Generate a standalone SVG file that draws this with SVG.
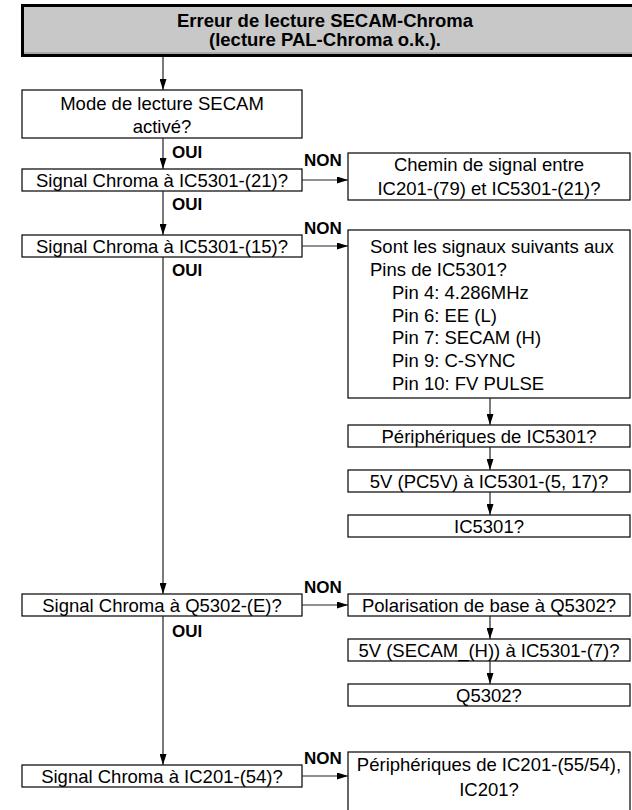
<svg xmlns="http://www.w3.org/2000/svg" width="632" height="810" viewBox="0 0 632 810">
<style>
.b{fill:#fff;stroke:#000;stroke-width:1.2}
.t{font-family:"Liberation Sans",Arial,sans-serif;font-size:18.5px;fill:#000}
.c{text-anchor:middle}
.l{font-family:"Liberation Sans",Arial,sans-serif;font-size:17px;font-weight:bold;fill:#000}
.w{fill:none;stroke:#222;stroke-width:1.2}
</style>
<defs>
<marker id="a" viewBox="0 0 11 7" refX="11" refY="3.5" markerWidth="11" markerHeight="7" markerUnits="userSpaceOnUse" orient="auto">
<path d="M0,0 L11,3.5 L0,7 Z" fill="#000"/>
</marker>
</defs>
<rect x="0" y="0" width="632" height="810" fill="#fff"/>
<g id="title">
<rect x="22.5" y="5.5" width="640" height="50" fill="#c8c8c8" stroke="#000" stroke-width="3"/>
<line x1="24" y1="53" x2="632" y2="53" stroke="#8a8a8a" stroke-width="1"/>
<text class="t c" x="325" y="27" font-weight="bold">Erreur de lecture SECAM-Chroma</text>
<text class="t c" x="325" y="46" font-weight="bold">(lecture PAL-Chroma o.k.).</text>
</g>
<g id="n1"><rect class="b" x="22" y="90" width="280" height="48"/>
<text class="t c" x="162" y="110">Mode de lecture SECAM</text><text class="t c" x="162" y="133">activé?</text></g>
<g id="n2"><rect class="b" x="22" y="169" width="280" height="22"/>
<text class="t c" x="162" y="187">Signal Chroma à IC5301-(21)?</text></g>
<g id="n3"><rect class="b" x="348" y="153" width="282" height="47"/>
<text class="t c" x="489" y="171">Chemin de signal entre</text><text class="t c" x="489" y="195">IC201-(79) et IC5301-(21)?</text></g>
<g id="n4"><rect class="b" x="22" y="235" width="280" height="22"/>
<text class="t c" x="162" y="253">Signal Chroma à IC5301-(15)?</text></g>
<g id="n5"><rect class="b" x="348" y="230" width="282" height="168"/>
<text class="t" x="370" y="253">Sont les signaux suivants aux</text>
<text class="t" x="370" y="276">Pins de IC5301?</text>
<text class="t" x="392" y="299">Pin 4: 4.286MHz</text>
<text class="t" x="392" y="322">Pin 6: EE (L)</text>
<text class="t" x="392" y="344">Pin 7: SECAM (H)</text>
<text class="t" x="392" y="367">Pin 9: C-SYNC</text>
<text class="t" x="392" y="390">Pin 10: FV PULSE</text></g>
<g id="n6"><rect class="b" x="348" y="425" width="282" height="22"/>
<text class="t c" x="489" y="443">Périphériques de IC5301?</text></g>
<g id="n7"><rect class="b" x="348" y="470" width="282" height="22"/>
<text class="t c" x="489" y="488">5V (PC5V) à IC5301-(5, 17)?</text></g>
<g id="n8"><rect class="b" x="348" y="515" width="282" height="22"/>
<text class="t c" x="489" y="533">IC5301?</text></g>
<g id="n9"><rect class="b" x="22" y="594" width="280" height="22"/>
<text class="t c" x="162" y="612">Signal Chroma à Q5302-(E)?</text></g>
<g id="n10"><rect class="b" x="348" y="594" width="282" height="22"/>
<text class="t c" x="489" y="612">Polarisation de base à Q5302?</text></g>
<g id="n11"><rect class="b" x="348" y="639" width="282" height="22"/>
<text class="t c" x="489" y="657">5V (SECAM_(H)) à IC5301-(7)?</text></g>
<g id="n12"><rect class="b" x="348" y="684" width="282" height="22"/>
<text class="t c" x="489" y="702">Q5302?</text></g>
<g id="n13"><rect class="b" x="22" y="765" width="280" height="22"/>
<text class="t c" x="162" y="783">Signal Chroma à IC201-(54)?</text></g>
<g id="n14"><rect class="b" x="348" y="752" width="282" height="70"/>
<text class="t c" x="489" y="771">Périphériques de IC201-(55/54),</text><text class="t c" x="489" y="796">IC201?</text></g>
<g id="connectors">
<path class="w" marker-end="url(#a)" d="M163,57 V90"/>
<path class="w" marker-end="url(#a)" d="M163,138 V169"/>
<path class="w" marker-end="url(#a)" d="M163,191 V235"/>
<path class="w" marker-end="url(#a)" d="M163,257 V594"/>
<path class="w" marker-end="url(#a)" d="M163,616 V765"/>
<path class="w" marker-end="url(#a)" d="M302,180 H348"/>
<path class="w" marker-end="url(#a)" d="M302,246 H348"/>
<path class="w" marker-end="url(#a)" d="M302,605 H348"/>
<path class="w" marker-end="url(#a)" d="M302,776 H348"/>
<path class="w" marker-end="url(#a)" d="M490,398 V425"/>
<path class="w" marker-end="url(#a)" d="M490,447 V470"/>
<path class="w" marker-end="url(#a)" d="M490,492 V515"/>
<path class="w" marker-end="url(#a)" d="M490,616 V639"/>
<path class="w" marker-end="url(#a)" d="M490,661 V684"/>
<text class="l" x="172" y="158">OUI</text>
<text class="l" x="172" y="210">OUI</text>
<text class="l" x="172" y="276">OUI</text>
<text class="l" x="172" y="637">OUI</text>
<text class="l" x="304" y="166">NON</text>
<text class="l" x="304" y="234">NON</text>
<text class="l" x="304" y="593">NON</text>
<text class="l" x="304" y="764">NON</text>
</g>
</svg>
